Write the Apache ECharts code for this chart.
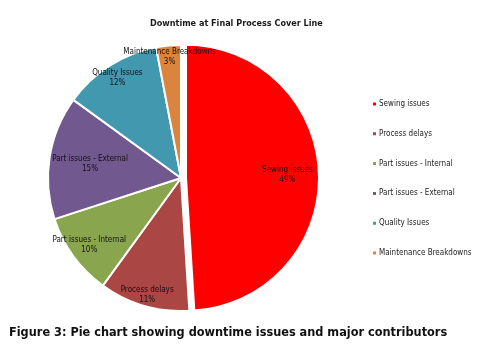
<!DOCTYPE html>
<html>
<head>
<meta charset="utf-8">
<script src="https://cdn.jsdelivr.net/npm/echarts@6/dist/echarts.min.js"></script>
<style>
  html, body { margin: 0; padding: 0; background: #fff; }
  #chart { width: 486px; height: 353px; }
</style>
</head>
<body>
<div id="chart"></div>
<script>
const categories = [
  'Sewing issues',
  'Process delays',
  'Part issues - Internal',
  'Part issues - External',
  'Quality Issues',
  'Maintenance Breakdowns',
];
const shares = [49, 11, 10, 15, 12, 3];
const sliceColors = ['#FF0000', '#AA4643', '#89A54E', '#71588F', '#4198AF', '#DB843D'];
// fraction of the radius where each slice label sits (Excel "best fit")
const labelDepth = [0.74, 0.89, 0.83, 0.67, 0.87, 0.89];

const pieRadius = 133;
const narrowFont = "'Liberation Sans Narrow', 'DejaVu Sans Condensed', sans-serif";

const total = shares.reduce((a, b) => a + b, 0);
let run = 0;
const midAngles = shares.map((v) => {
  const mid = ((run + v / 2) / total) * 2 * Math.PI;
  run += v;
  return mid;
});

const pieData = categories.map((name, i) => ({
  name,
  value: shares[i],
  selected: i === 0,
}));

const pieBase = {
  type: 'pie',
  center: [181, 178],
  radius: pieRadius,
  startAngle: 90,
  clockwise: true,
  selectedMode: 'single',
  selectedOffset: 5,
  emphasis: { disabled: true },
  data: pieData,
};

const chart = echarts.init(document.getElementById('chart'));

chart.setOption({
  animation: false,
  color: sliceColors,
  graphic: [
    {
      type: 'text',
      left: 150,
      top: 19,
      style: {
        text: 'Downtime at Final Process Cover Line',
        fontFamily: narrowFont,
        fontWeight: 'bold',
        fontSize: 9,
        fill: '#1a1a1a',
      },
    },
    {
      type: 'text',
      left: 9,
      top: 326,
      style: {
        text: 'Figure 3: Pie chart showing downtime issues and major contributors',
        fontFamily: 'DejaVu Sans Condensed, sans-serif',
        fontWeight: 'bold',
        fontSize: 12.6,
        fill: '#111',
      },
    },
  ],
  legend: {
    orient: 'vertical',
    left: 366,
    top: 95,
    itemWidth: 5,
    itemHeight: 5,
    itemGap: 21.8,
    icon: 'rect',
    selectedMode: false,
    textStyle: {
      fontFamily: narrowFont,
      fontSize: 8,
      color: '#222',
      padding: [0, 0, 0, -3],
    },
    data: categories,
  },
  series: [
    {
      ...pieBase,
      itemStyle: { borderColor: '#fff', borderWidth: 2 },
      label: { show: false },
    },
    {
      // label layer drawn on top of the slices
      ...pieBase,
      silent: true,
      z: 5,
      itemStyle: { opacity: 0, borderWidth: 0 },
      label: {
        position: 'inside',
        fontFamily: narrowFont,
        fontSize: 8,
        color: '#111',
        opacity: 1,
        textBorderWidth: 0,
        lineHeight: 10,
        formatter: (p) => p.name + '\n' + p.value + '%',
      },
      labelLayout: (p) => {
        const a = midAngles[p.dataIndex];
        const d = (labelDepth[p.dataIndex] - 0.5) * pieRadius;
        return { dx: d * Math.sin(a), dy: -d * Math.cos(a) };
      },
    },
  ],
});
</script>
</body>
</html>
